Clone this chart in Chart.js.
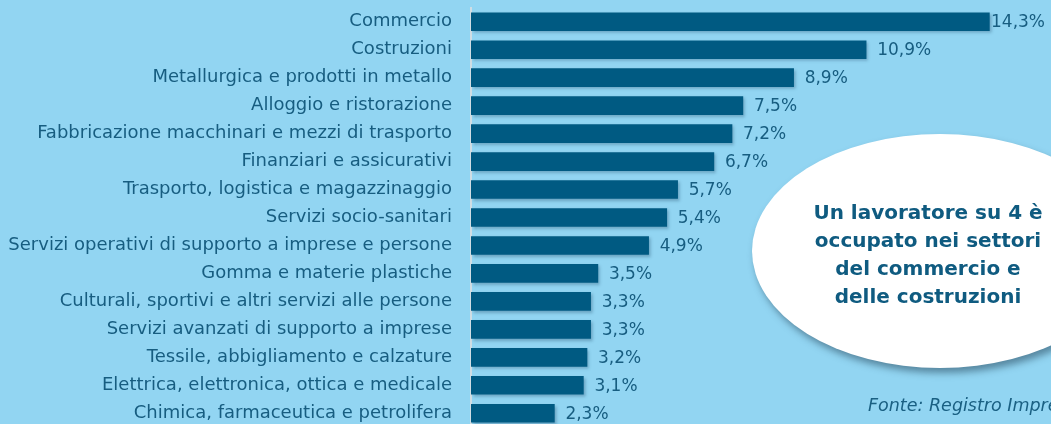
<!DOCTYPE html>
<html>
<head>
<meta charset="utf-8">
<script src="https://cdn.jsdelivr.net/npm/chart.js@4/dist/chart.umd.min.js"></script>
<style>
  html, body { margin: 0; padding: 0; }
  body { width: 1051px; height: 424px; overflow: hidden; background: #92d5f2; position: relative; }
  #wrap { position: absolute; left: 0; top: -22px; width: 1051px; height: 479px; }
  #bubble {
    position: absolute; left: 752px; top: 134px; width: 376px; height: 234px;
    background: #fff; border-radius: 50%;
    box-shadow: 3px 5px 7px rgba(30, 60, 80, 0.5);
  }
  #bubbleText {
    position: absolute; left: 790px; top: 198px; width: 276px;
    text-align: center; font-family: "DejaVu Sans", sans-serif; font-weight: bold;
    font-size: 20px; line-height: 28px; color: #0f5b80;
  }
  #source {
    position: absolute; left: 868px; top: 395px; white-space: nowrap;
    font-family: "DejaVu Sans", sans-serif; font-style: italic; font-size: 17.5px; color: #1a6083;
  }
</style>
</head>
<body>
<div id="wrap"><canvas id="chart" width="1051" height="479"></canvas></div>
<div id="bubble"></div>
<div id="bubbleText">Un lavoratore su 4 è<br>occupato nei settori<br>del commercio e<br>delle costruzioni</div>
<div id="source">Fonte: Registro Imprese</div>
<script>
const sectors = [
  "Commercio",
  "Costruzioni",
  "Metallurgica e prodotti in metallo",
  "Alloggio e ristorazione",
  "Fabbricazione macchinari e mezzi di trasporto",
  "Finanziari e assicurativi",
  "Trasporto, logistica e magazzinaggio",
  "Servizi socio-sanitari",
  "Servizi operativi di supporto a imprese e persone",
  "Gomma e materie plastiche",
  "Culturali, sportivi e altri servizi alle persone",
  "Servizi avanzati di supporto a imprese",
  "Tessile, abbigliamento e calzature",
  "Elettrica, elettronica, ottica e medicale",
  "Chimica, farmaceutica e petrolifera"
];
const shares = [14.3, 10.9, 8.9, 7.5, 7.2, 6.7, 5.7, 5.4, 4.9, 3.5, 3.3, 3.3, 3.2, 3.1, 2.3];

const textColor = "#175d80";
const labelFont = { family: "DejaVu Sans", size: 18 };
const valueFont = { family: "DejaVu Sans", size: 17 };

// soft shadow under the bars
const barShadow = {
  id: "barShadow",
  beforeDatasetsDraw(chart) {
    const ctx = chart.ctx;
    ctx.save();
    ctx.shadowColor = "rgba(30, 70, 100, 0.35)";
    ctx.shadowOffsetX = 2;
    ctx.shadowOffsetY = 2;
    ctx.shadowBlur = 3;
  },
  afterDatasetsDraw(chart) {
    chart.ctx.restore();
  }
};

// percentage labels at the end of each bar
const valueLabels = {
  id: "valueLabels",
  afterDraw(chart) {
    const ctx = chart.ctx;
    const meta = chart.getDatasetMeta(0);
    ctx.save();
    ctx.font = valueFont.size + "px " + valueFont.family;
    ctx.fillStyle = textColor;
    ctx.textBaseline = "middle";
    meta.data.forEach((bar, i) => {
      const txt = shares[i].toFixed(1).replace(".", ",") + "%";
      const w = ctx.measureText(txt).width;
      const x = Math.min(bar.x + 11, chart.width - w - 6);
      ctx.fillText(txt, x, bar.y + 1);
    });
    ctx.restore();
  }
};

new Chart(document.getElementById("chart"), {
  type: "bar",
  data: {
    labels: sectors,
    datasets: [{
      data: shares,
      backgroundColor: "#005a82",
      borderWidth: 0,
      barThickness: 18
    }]
  },
  options: {
    indexAxis: "y",
    responsive: false,
    animation: false,
    layout: { padding: { top: 6, bottom: 13, left: 0, right: 0 } },
    plugins: { legend: { display: false }, tooltip: { enabled: false } },
    scales: {
      x: { display: false, min: 0, max: 16 },
      y: {
        grid: { display: false, drawTicks: false },
        border: { display: true, color: "#cfdde4", width: 2 },
        ticks: { color: textColor, font: labelFont, padding: 19 },
        afterFit(scale) { scale.width = 471; }
      }
    }
  },
  plugins: [barShadow, valueLabels]
});
</script>
</body>
</html>
